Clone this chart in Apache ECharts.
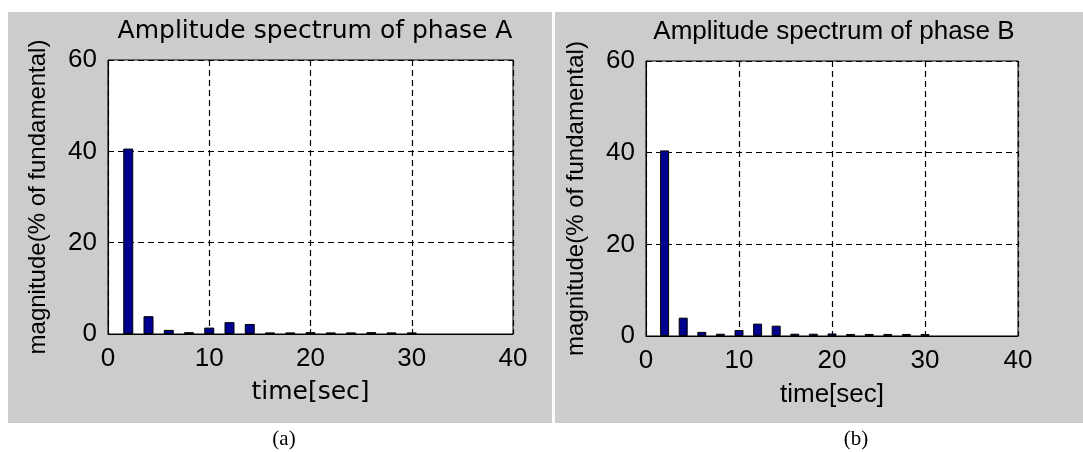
<!DOCTYPE html>
<html>
<head>
<meta charset="utf-8">
<script src="https://cdn.jsdelivr.net/npm/echarts@6/dist/echarts.min.js"></script>
<style>
  html, body { margin: 0; padding: 0; background: #fff; }
  #chart { width: 1083px; height: 452px; }
</style>
</head>
<body>
<div id="chart"></div>
<script>
// harmonic positions shown on the x axis
const harmonics = [2, 4, 6, 8, 10, 12, 14, 16, 18, 20, 22, 24, 26, 28, 30];
// magnitudes (% of fundamental)
const ampA = [40.6, 3.9, 0.9, 0.4, 1.4, 2.6, 2.2, 0.35, 0.35, 0.4, 0.35, 0.35, 0.4, 0.35, 0.35];
const ampB = [40.5, 4.0, 0.9, 0.5, 1.3, 2.7, 2.25, 0.5, 0.5, 0.55, 0.45, 0.45, 0.45, 0.45, 0.45];
const titles = ["Amplitude spectrum of phase A", "Amplitude spectrum of phase B"];
const captions = ["(a)", "(b)"];
const xName = "time[sec]";
const yName = "magnitude(% of fundamental)";

const gray = "#cccccc";
const barColor = "#00008f";

const panels = [
  { grid: { left: 108, top: 60, width: 405, height: 274 }, titleX: 310, captionX: 284,
    titleFont: "DejaVu Sans", titleSize: 25, barWidth: 10 },
  { grid: { left: 646, top: 61, width: 372, height: 275 }, titleX: 829, captionX: 856,
    titleFont: "Liberation Sans", titleSize: 26, barWidth: 9 }
];

const axisText = { color: "#000", fontFamily: "Liberation Sans", fontSize: 26 };
const gridLine = { show: true, lineStyle: { color: "#000", type: [6, 4], width: 1.2 } };

const chart = echarts.init(document.getElementById("chart"));

const option = {
  backgroundColor: "#fff",
  animation: false,
  title: panels.map((p, i) => ({
    text: titles[i],
    left: p.titleX,
    top: 14,
    textAlign: "center",
    textStyle: { color: "#000", fontWeight: "normal", fontFamily: p.titleFont, fontSize: p.titleSize }
  })),
  graphic: [
    { type: "rect", z: -10, shape: { x: 8, y: 12, width: 544, height: 411 }, style: { fill: gray } },
    { type: "rect", z: -10, shape: { x: 555, y: 12, width: 528, height: 411 }, style: { fill: gray } }
  ].concat(panels.map((p, i) => ({
    type: "text", x: p.captionX, y: 439,
    style: { text: captions[i], fill: "#000", font: "21px 'Liberation Serif'", textAlign: "center", textVerticalAlign: "middle" }
  }))),
  grid: panels.map(p => Object.assign({
    show: true, backgroundColor: "#fff", borderColor: "#000", borderWidth: 1, containLabel: false
  }, p.grid)),
  xAxis: panels.map((p, i) => ({
    type: "value", gridIndex: i, min: 0, max: 40, interval: 10,
    name: xName, nameLocation: "middle", nameGap: 46,
    nameTextStyle: { color: "#000", fontFamily: p.titleFont, fontSize: p.titleSize },
    axisLine: { show: true, lineStyle: { color: "#000", width: 1 } },
    axisTick: { show: true, inside: true, length: 5, lineStyle: { color: "#000" } },
    axisLabel: Object.assign({ margin: 12 }, axisText),
    splitLine: gridLine
  })),
  yAxis: panels.map((p, i) => ({
    type: "value", gridIndex: i, min: 0, max: 60, interval: 20,
    name: yName, nameLocation: "middle", nameGap: 58, nameRotate: 90,
    nameTextStyle: { color: "#000", fontFamily: "Liberation Sans", fontSize: 24 },
    axisLine: { show: true, lineStyle: { color: "#000", width: 1 } },
    axisTick: { show: true, inside: true, length: 5, lineStyle: { color: "#000" } },
    axisLabel: Object.assign({ margin: 11 }, axisText),
    splitLine: gridLine
  })),
  series: [ampA, ampB].map((amp, i) => ({
    type: "bar",
    xAxisIndex: i,
    yAxisIndex: i,
    barWidth: panels[i].barWidth,
    data: harmonics.map((h, k) => [h, amp[k]]),
    itemStyle: { color: barColor, borderColor: "#000", borderWidth: 1 }
  }))
};

chart.setOption(option);
</script>
</body>
</html>
